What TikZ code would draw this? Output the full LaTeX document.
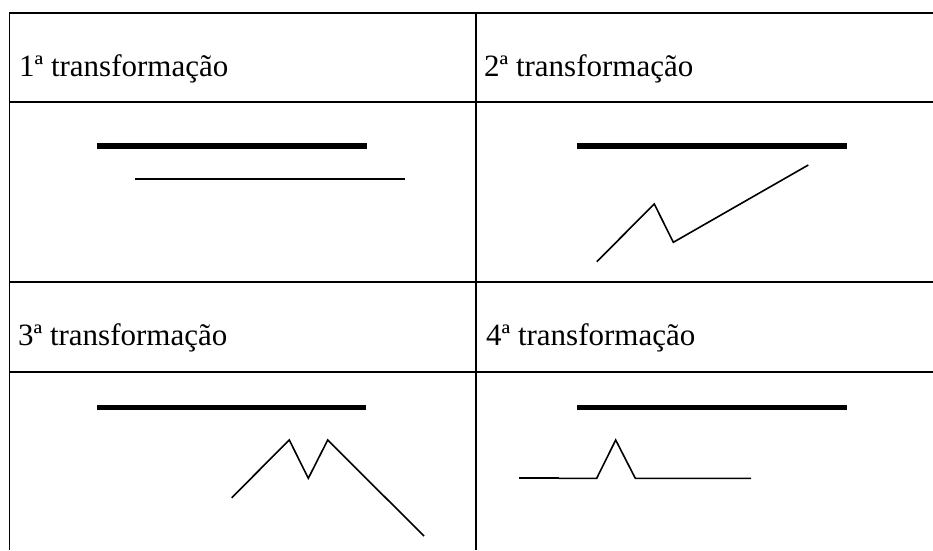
\documentclass[tikz,border=0pt]{standalone}
\usepackage{fontspec}
\setmainfont{Liberation Serif}
\newfontfamily\headfont{Liberation Serif}
\tikzset{
  grid/.style={draw=black,line width=1.5pt},
  cellhead/.style={anchor=base west,inner sep=0pt,font=\headfont\fontsize{31}{37}\selectfont},
  bar/.style={draw=black,line width=5.5pt},
  curve/.style={draw=black,line width=1.6pt,line join=miter},
}
\begin{document}
\begin{tikzpicture}[x=1pt,y=-1pt]
  \useasboundingbox (0,0) rectangle (933,550);
  % table
  \coordinate (tl) at (9.5,13);
  \coordinate (tm) at (476,13);
  \draw[grid] (933,13) -- (tl) -- (9.5,550);
  \draw[grid] (tm) -- (476,550);
  \foreach \yy in {102,282,372}
    \draw[grid] (9.5,\yy) -- (933,\yy);
  % headings
  \node[cellhead] (t1) at (19,76.5) {1ª transformação};
  \node[cellhead] (t2) at (484,76.5) {2ª transformação};
  \node[cellhead] (t3) at (18,345.5) {3ª transformação};
  \node[cellhead] (t4) at (486,345.5) {4ª transformação};
  % 1st
  \draw[bar] (97,146) -- (367,146);
  \draw[curve] (135,178.7) -- (405,178.7);
  % 2nd
  \draw[bar] (577.3,146) -- (846.7,146);
  \draw[curve] (596.7,261.7) -- (654.3,204) -- (673.3,242.3) -- (808.3,165);
  % 3rd
  \draw[bar] (97,407.7) -- (366,407.7);
  \draw[curve] (231.7,497.7) -- (289.3,440) -- (308.3,478.3) -- (327.7,440) -- (424,536);
  % 4th
  \draw[bar] (577.3,407.7) -- (846.7,407.7);
  \draw[curve,line width=2pt] (519.3,478.3) -- (558.7,478.3);
  \draw[curve] (558.7,478.3) -- (596.7,478.3) -- (615.7,440) -- (635.3,478.3) -- (751,478.3);
\end{tikzpicture}
\end{document}
